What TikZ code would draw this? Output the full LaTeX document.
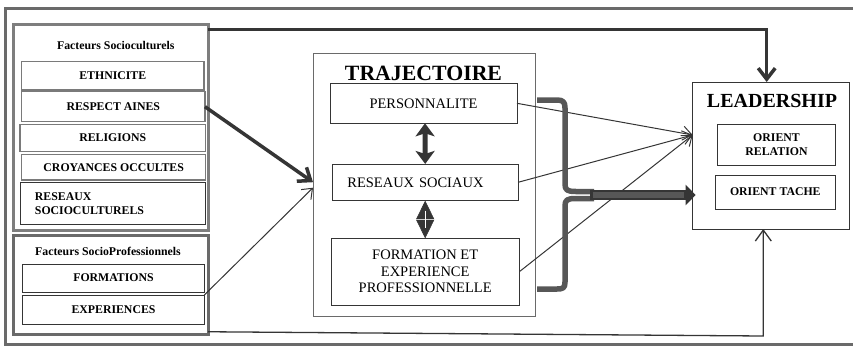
\documentclass[tikz,border=0pt]{standalone}
\usepackage{fontspec}
\setmainfont{Liberation Serif}
\usetikzlibrary{arrows.meta}
\definecolor{dk}{HTML}{353535}
\definecolor{frm}{HTML}{6A6A6A}
\definecolor{frmlight}{HTML}{7E7E7E}
\definecolor{brc}{HTML}{575757}
\definecolor{gbord}{HTML}{7A7A7A}
\begin{document}
\begin{tikzpicture}[x=1pt,y=-1pt,
  box/.style={draw=dk, line width=0.8pt, fill=white, inner sep=0pt, outer sep=0pt, align=center},
  gbox/.style={box, draw=gbord, line width=1.4pt},
  itemfont/.style={font=\bfseries\fontsize{11.8}{14}\selectfont},
  trajfont/.style={font=\fontsize{14.5}{16.5}\selectfont},
  thinarr/.style={draw=dk, line width=1pt, -{Straight Barb[length=9pt,width=14pt]}},
  thickarr/.style={draw=dk, line width=3.5pt, -{Straight Barb[length=11pt,width=17pt]}},
  bracestyle/.style={draw=brc, line width=5.5pt, line join=round, line cap=butt}
]
\useasboundingbox (0,0) rectangle (853,346);
\clip (0,0) rectangle (853,346);
% outer frame
\draw[frm, line width=3.2pt] (870,8.3) -- (5.3,8.3) -- (5.3,344.2) -- (870,344.2);

% Facteurs Socioculturels
\node[box, draw=frmlight, line width=3pt, minimum width=195pt, minimum height=206pt] (sc) at (110.5,127.7) {};
\node[itemfont] (sctitle) at (115.8,45) {Facteurs Socioculturels};
\node[gbox, itemfont, minimum width=182.3pt, minimum height=28.3pt] (eth) at (112.8,75.8) {ETHNICITE};
\node[gbox, itemfont, minimum width=183.3pt, minimum height=30pt] (resp) at (113.3,106.7) {RESPECT AINES};
\node[gbox, itemfont, minimum width=185.7pt, minimum height=27.4pt] (rel) at (112.8,138) {RELIGIONS};
\node[gbox, itemfont, minimum width=184pt, minimum height=25.7pt] (croy) at (113.7,167.2) {CROYANCES OCCULTES};
\node[box, itemfont, text width=155.7pt, inner xsep=14.3pt, align=left, minimum height=41.6pt] (res) at (112.8,203.5) {RESEAUX\\SOCIOCULTURELS};

% Facteurs SocioProfessionnels
\node[box, draw=frm, line width=3pt, minimum width=195pt, minimum height=99.5pt] (sp) at (110.5,284.8) {};
\node[itemfont, anchor=west, inner sep=0pt] (sptitle) at (35,251.7) {Facteurs SocioProfessionnels};
\node[box, itemfont, minimum width=181.6pt, minimum height=28pt] (form) at (113.5,278) {FORMATIONS};
\node[box, itemfont, minimum width=181.6pt, minimum height=29pt] (exp) at (113.5,309.5) {EXPERIENCES};

% Trajectoire
\node[box, draw=frm, line width=1pt, minimum width=222pt, minimum height=262.7pt] (traj) at (424,184.7) {};
\node[font=\bfseries\fontsize{21.8}{24}\selectfont, inner sep=0pt] (trajtitle) at (423.5,73.3) {TRAJECTOIRE};
\node[box, trajfont, minimum width=187pt, minimum height=40pt] (pers) at (423.5,103.3) {PERSONNALITE};
\node[box, trajfont, text width=155.7pt, inner xsep=15pt, align=left, minimum height=36.7pt] (rsoc) at (425.2,182.3) {RESEAUX SOCIAUX};
\node[box, trajfont, minimum width=188.3pt, minimum height=66.7pt] (fexp) at (425.2,271.7) {FORMATION ET\\EXPERIENCE\\PROFESSIONNELLE};

% Leadership
\node[box, draw=dk, line width=1pt, minimum width=157.3pt, minimum height=147pt] (lead) at (771.3,155.5) {};
\node[font=\bfseries\fontsize{20}{22}\selectfont, inner sep=0pt] (leadtitle) at (772,101) {LEADERSHIP};
\node[box, itemfont, minimum width=118.4pt, minimum height=40.7pt] (orel) at (776.5,144.7) {ORIENT\\RELATION};
\node[box, itemfont, minimum width=120.7pt, minimum height=34pt] (otache) at (775.3,192) {ORIENT TACHE};

% connectors
\coordinate (conv) at ([yshift=20.5pt]lead.west);
\draw[thinarr] (pers.east) -- (conv);
\draw[thinarr] (rsoc.east) -- (conv);
\draw[thinarr] (fexp.east) -- (conv);

\draw[thickarr] ([yshift=-4.8pt]sc.north east) -| ([xshift=-4.6pt]lead.north);
\coordinate (bc) at (763.3,336);
\draw[draw=dk, line width=1.3pt, -{Straight Barb[length=11pt,width=16pt]}] ([yshift=2.8pt]sp.south east) -- (bc) -- (bc |- lead.south);

\draw[thickarr] (resp.east) -- ([yshift=2.5pt]traj.west);
\draw[thinarr] (exp.north east) -- ([yshift=-3pt]traj.west);

% double arrows inside trajectoire
\draw[dk, line width=5pt, {Stealth[length=13pt,width=19pt,inset=3pt]}-{Stealth[length=13pt,width=19pt,inset=3pt]}] ([xshift=1.5pt]pers.south) -- (rsoc.north);
\draw[dk, line width=0.5pt, {Triangle[length=18.5pt,width=18pt]}-{Triangle[length=18.5pt,width=18pt]}] (rsoc.south) -- (fexp.north);
\draw[white, line width=1pt] ([yshift=-10pt]rsoc.south) -- ([yshift=10pt]fexp.north);

% brace
\draw[bracestyle] (537,100) -- (557,100) .. controls (563,100) and (565,102) .. (565,108) -- (565,184) .. controls (565,190) and (567,191.5) .. (576,191.5) -- (594,191.5);
\draw[bracestyle] (594,198.5) -- (576,198.5) .. controls (567,198.5) and (565,200) .. (565,206) -- (565,282) .. controls (565,288) and (563,289) .. (557,289) -- (537,289);

% thick arrow from brace
\coordinate (bt) at (590,195);
\draw[dk, line width=10pt, -{Triangle[length=10pt,width=20pt]}] (bt) -- ([xshift=3pt,yshift=-39.5pt]lead.west);
\draw[brc, line width=5.5pt] ([xshift=2.5pt]bt) -- ([xshift=-9pt,yshift=-39.5pt]lead.west);
\end{tikzpicture}
\end{document}
